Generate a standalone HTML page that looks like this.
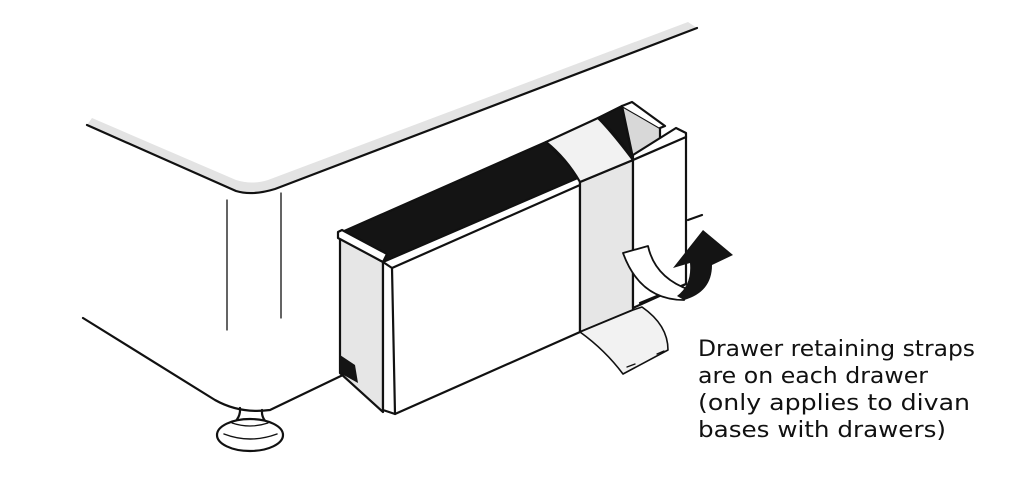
<!DOCTYPE html>
<html><head><meta charset="utf-8"><style>html,body{margin:0;padding:0;background:#fff}svg{display:block}</style></head>
<body>
<svg width="1024" height="492" viewBox="0 0 1024 492" xmlns="http://www.w3.org/2000/svg">
<g stroke="#111" stroke-width="2.2" fill="none" stroke-linejoin="round" stroke-linecap="round">
<!-- top surface grey band -->
<path d="M92,118 L236,180 Q252,185 268,180 L688,22 L697,28 L275,189 Q252,196 236,191 L87,125 Z" fill="#e3e3e3" stroke="none"/>
<path d="M87,125 L236,191 Q252,196 275,189 L697,28"/>
<!-- corner vertical lines -->
<path d="M227,200 L227,330 M281,193 L281,318" stroke-width="1.3"/>
<!-- bottom edge -->
<path d="M83,318 L215,400 Q240,414 270,410 L345,374"/>
<!-- foot -->
<path d="M240,408 Q241,420 228,427 M262,410 Q261,421 273,427"/>
<ellipse cx="250" cy="435" rx="33" ry="16" fill="#fff"/>
<path d="M224,434 Q250,444 277,434" stroke-width="1.4"/>
<path d="M232,423 Q250,429 268,423" stroke-width="1.2"/>
<!-- drawer black interior -->
<path d="M342,232 L546,142 L583,180 L385,262 Z" fill="#141414"/>
<!-- drawer left side -->
<path d="M340,238 L383,262 L383,412 L340,373 Z" fill="#e6e6e6"/>
<path d="M340,355 L340,373 L358,383 L355,365 Z" fill="#141414" stroke="none"/>
<!-- drawer top rim -->
<path d="M338,232 L342,230 L387,254 L383,262 L338,238 Z" fill="#fff"/>
<!-- front frame -->
<path d="M383,262 L580,177 L580,332 L395,414 L383,410 Z" fill="#fff"/>
<path d="M383,262 L392,268 L580,185 M392,268 L395,414"/>
<!-- strap vertical -->
<path d="M580,182 L633,160 L633,310 L580,332 Z" fill="#e6e6e6"/>
<!-- strap top over edge -->
<path d="M546,142 L598,118 Q612,132 633,160 L580,182 Q566,158 546,142 Z" fill="#f2f2f2"/>
<!-- right part of drawer -->
<path d="M598,118 L622,106 L633,160 Q618,135 598,118 Z" fill="#141414"/>
<path d="M622,106 L660,128 L660,146 L633,158 Z" fill="#d8d8d8"/>
<path d="M622,106 L632,102 L665,126 L660,128" fill="#fff"/>
<path d="M633,155 L676,128 L686,133 L686,284 L633,308 Z" fill="#fff"/>
<path d="M633,160 L686,137"/>
<!-- line right side -->
<path d="M688,220 L702,215 M640,303 L686,284"/>
<!-- hanging strap bottom -->
<path d="M580,332 Q605,350 623,374 L668,350 Q668,325 642,307 L633,310 Z" fill="#f2f2f2" stroke-width="1.6"/>
<path d="M627,367 L635,364 M657,354 L664,351" stroke-width="1.3"/>
<!-- curled strap -->
<path d="M623,253 L648,246 Q655,278 690,290 L684,300 Q640,300 623,253 Z" fill="#fff" stroke-width="1.8"/>
<!-- arrow -->
<path d="M684,300 Q712,292 712,265 L733,255 L703,230 L673,268 L690,263 Q692,285 677,296 Z" fill="#141414" stroke="none"/>
</g>
<g font-family="'DejaVu Sans', Verdana, sans-serif" font-size="22.5" fill="#111">
<text x="698" y="356" textLength="277" lengthAdjust="spacingAndGlyphs">Drawer retaining straps</text>
<text x="698" y="383" textLength="230" lengthAdjust="spacingAndGlyphs">are on each drawer</text>
<text x="698" y="410" textLength="272" lengthAdjust="spacingAndGlyphs">(only applies to divan</text>
<text x="698" y="437" textLength="248" lengthAdjust="spacingAndGlyphs">bases with drawers)</text>
</g>
</svg>
</body></html>
